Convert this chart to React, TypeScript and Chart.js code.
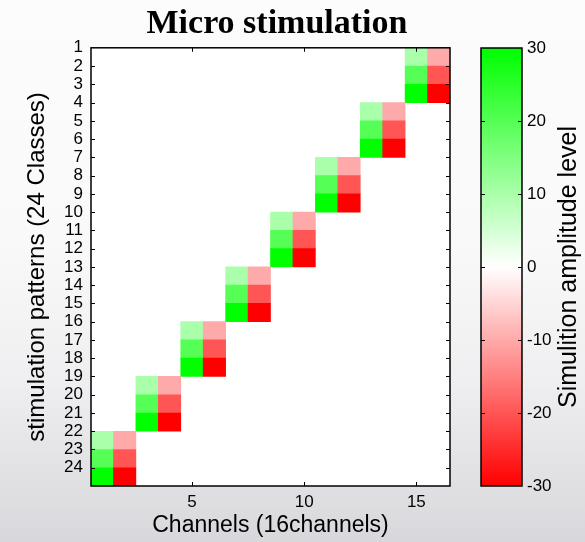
import React, { useEffect, useRef } from 'react';
import { Chart, registerables } from 'chart.js';

Chart.register(...registerables);

// ---------- data ----------
const classLabels = ['1', '2', '3', '4', '5', '6', '7', '8', '9', '10', '11', '12', '13', '14', '15', '16', '17', '18', '19', '20', '21', '22', '23', '24'];
const channelTicks = [5, 10, 15];
const channelRange = [0.5, 16.5];
const cellClass = [
  1, 1, 2, 2, 3, 3,
  4, 4, 5, 5, 6, 6,
  7, 7, 8, 8, 9, 9,
  10, 10, 11, 11, 12, 12,
  13, 13, 14, 14, 15, 15,
  16, 16, 17, 17, 18, 18,
  19, 19, 20, 20, 21, 21,
  22, 22, 23, 23, 24, 24,
];
const cellChannel = [
  15, 16, 15, 16, 15, 16,
  13, 14, 13, 14, 13, 14,
  11, 12, 11, 12, 11, 12,
  9, 10, 9, 10, 9, 10,
  7, 8, 7, 8, 7, 8,
  5, 6, 5, 6, 5, 6,
  3, 4, 3, 4, 3, 4,
  1, 2, 1, 2, 1, 2,
];
const cellAmplitude = [
  10, -10, 20, -20, 30, -30,
  10, -10, 20, -20, 30, -30,
  10, -10, 20, -20, 30, -30,
  10, -10, 20, -20, 30, -30,
  10, -10, 20, -20, 30, -30,
  10, -10, 20, -20, 30, -30,
  10, -10, 20, -20, 30, -30,
  10, -10, 20, -20, 30, -30,
];
const colorbarTicks = [-30, -20, -10, 0, 10, 20, 30];
const amplitudeRange = [-30, 30];
const colorbarStops = ['#ff0000', '#ffffff', '#00ff00'];

const TITLE = 'Micro stimulation';
const X_TITLE = 'Channels (16channels)';
const Y_TITLE = 'stimulation patterns (24 Classes)';
const CB_TITLE = 'Simulition amplitude level';

// ---------- helpers ----------
const SANS = "'Liberation Sans', Arial, Helvetica, sans-serif";
const SERIF = "'Liberation Serif', 'Times New Roman', serif";

function ampColor(v: number): string {
  const maxA = amplitudeRange[1];
  const t = Math.min(1, Math.abs(v) / maxA);
  const c = Math.round(255 * (1 - t));
  return v >= 0 ? `rgb(${c},255,${c})` : `rgb(255,${c},${c})`;
}

const framePlugin = {
  id: 'frame',
  beforeDatasetsDraw(chart: any) {
    const { ctx, chartArea: a } = chart;
    ctx.save();
    ctx.fillStyle = '#ffffff';
    ctx.fillRect(a.left, a.top, a.right - a.left, a.bottom - a.top);
    ctx.restore();
  },
  afterDraw(chart: any) {
    const { ctx, chartArea: a, scales } = chart;
    ctx.save();
    ctx.strokeStyle = '#000';
    ctx.lineWidth = 1;
    ctx.beginPath();
    for (let i = 1; i < classLabels.length; i++) {
      const p = Math.round(scales.y.getPixelForValue(i)) + 0.5;
      ctx.moveTo(a.left, p); ctx.lineTo(a.left + 4, p);
      ctx.moveTo(a.right - 4, p); ctx.lineTo(a.right, p);
    }
    for (const v of channelTicks) {
      const p = Math.round(scales.x.getPixelForValue(v)) + 0.5;
      ctx.moveTo(p, a.bottom); ctx.lineTo(p, a.bottom - 4);
      ctx.moveTo(p, a.top); ctx.lineTo(p, a.top + 4);
    }
    ctx.stroke();
    ctx.lineWidth = 1.5;
    ctx.strokeRect(a.left, a.top, a.right - a.left, a.bottom - a.top);
    ctx.restore();
  },
};

const colorbarPlugin = {
  id: 'cbframe',
  afterDraw(chart: any) {
    const { ctx, chartArea: a, scales } = chart;
    ctx.save();
    ctx.strokeStyle = '#000';
    ctx.lineWidth = 1;
    ctx.beginPath();
    for (const v of colorbarTicks) {
      if (v === amplitudeRange[0] || v === amplitudeRange[1]) continue;
      const p = Math.round(scales.y.getPixelForValue(v)) + 0.5;
      ctx.moveTo(a.left, p); ctx.lineTo(a.left + 4, p);
      ctx.moveTo(a.right - 4, p); ctx.lineTo(a.right, p);
    }
    ctx.stroke();
    ctx.lineWidth = 1.5;
    ctx.strokeRect(a.left, a.top, a.right - a.left, a.bottom - a.top);
    // rotated colorbar label (reads bottom-to-top)
    ctx.translate(569, (a.top + a.bottom) / 2);
    ctx.rotate(-Math.PI / 2);
    ctx.fillStyle = '#000';
    ctx.font = `25px ${SANS}`;
    ctx.textAlign = 'center';
    ctx.textBaseline = 'middle';
    ctx.fillText(CB_TITLE, 0, 0);
    ctx.restore();
  },
};

export default function App() {
  const mainRef = useRef<HTMLCanvasElement | null>(null);
  const cbRef = useRef<HTMLCanvasElement | null>(null);

  useEffect(() => {
    if (!mainRef.current || !cbRef.current) return;

    const cells = cellClass.map((c, i) => ({ x: cellChannel[i], y: [c - 1, c] }));

    const main = new Chart(mainRef.current, {
      type: 'bar',
      data: {
        datasets: [
          {
            data: cells as any,
            backgroundColor: cellAmplitude.map(ampColor),
            borderWidth: 0,
            barPercentage: 1,
            categoryPercentage: 1,
          },
        ],
      },
      options: {
        responsive: false,
        animation: false,
        events: [],
        layout: { padding: { left: 0, right: 31, top: 0, bottom: 0 } },
        plugins: {
          legend: { display: false },
          tooltip: { enabled: false },
          title: {
            display: true,
            text: TITLE,
            color: '#000',
            font: { family: SERIF, size: 34, weight: 'bold' },
            padding: { top: 4, bottom: 3 },
          },
        },
        scales: {
          x: {
            type: 'linear',
            min: channelRange[0],
            max: channelRange[1],
            offset: false,
            grid: { display: false, drawTicks: false },
            border: { display: false },
            afterBuildTicks: (s: any) => { s.ticks = channelTicks.map((v) => ({ value: v })); },
            afterFit: (s: any) => { s.height = 56; },
            ticks: { color: '#000', font: { family: SANS, size: 17 }, padding: 6, maxRotation: 0, autoSkip: false },
            title: { display: true, text: X_TITLE, color: '#000', font: { family: SANS, size: 23 }, padding: { top: 0, bottom: 3 } },
          },
          y: {
            type: 'linear',
            min: 0,
            max: classLabels.length,
            reverse: true,
            grid: { display: false, drawTicks: false },
            border: { display: false },
            afterBuildTicks: (s: any) => { s.ticks = classLabels.map((_, i) => ({ value: i })); },
            afterFit: (s: any) => { s.width = 91; },
            ticks: {
              color: '#000',
              font: { family: SANS, size: 17 },
              padding: 8,
              autoSkip: false,
              callback: (_v: any, i: number) => classLabels[i],
            },
            title: { display: true, text: Y_TITLE, color: '#000', font: { family: SANS, size: 24 }, padding: { top: 23, bottom: 0 } },
          },
          y2: {
            type: 'linear',
            position: 'right',
            grid: { display: false, drawTicks: false },
            border: { display: false },
            ticks: { display: false },
            afterFit: (s: any) => { s.width = 104; },
          },
        },
      } as any,
      plugins: [framePlugin],
    });

    const cb = new Chart(cbRef.current, {
      type: 'bar',
      data: {
        labels: ['colorbar'],
        datasets: [
          {
            data: [amplitudeRange] as any,
            backgroundColor: (ctx: any) => {
              const chart = ctx.chart;
              const ys = chart.scales && chart.scales.y;
              if (!ys || !chart.chartArea) return colorbarStops[1];
              const p0 = ys.getPixelForValue(amplitudeRange[0]);
              const p1 = ys.getPixelForValue(amplitudeRange[1]);
              if (!isFinite(p0) || !isFinite(p1) || p0 === p1) return colorbarStops[1];
              const g = chart.ctx.createLinearGradient(0, p0, 0, p1);
              colorbarStops.forEach((c, i) => g.addColorStop(i / (colorbarStops.length - 1), c));
              return g;
            },
            borderWidth: 0,
            barPercentage: 1,
            categoryPercentage: 1,
          },
        ],
      },
      options: {
        responsive: false,
        animation: false,
        events: [],
        layout: { padding: { left: 481, right: 0, top: 48, bottom: 56 } },
        plugins: { legend: { display: false }, tooltip: { enabled: false }, title: { display: false } },
        scales: {
          x: { display: false },
          y: {
            position: 'right',
            min: amplitudeRange[0],
            max: amplitudeRange[1],
            grid: { display: false, drawTicks: false },
            border: { display: false },
            afterBuildTicks: (s: any) => { s.ticks = colorbarTicks.map((v) => ({ value: v })); },
            afterFit: (s: any) => { s.width = 63; },
            ticks: { color: '#000', font: { family: SANS, size: 17 }, padding: 5, autoSkip: false },
          },
        },
      } as any,
      plugins: [colorbarPlugin],
    });

    return () => {
      main.destroy();
      cb.destroy();
    };
  }, []);

  return (
    <div
      style={{
        position: 'fixed',
        left: 0,
        top: 0,
        width: 585,
        height: 542,
        overflow: 'hidden',
        background: 'linear-gradient(to bottom, #fcfcfc 0%, #f9f9f9 45%, #efeff1 70%, #d8d8dc 100%)',
      }}
    >
      <canvas ref={mainRef} width={585} height={542} style={{ position: 'absolute', left: 0, top: 0 }} />
      <canvas ref={cbRef} width={585} height={542} style={{ position: 'absolute', left: 0, top: 0 }} />
    </div>
  );
}
